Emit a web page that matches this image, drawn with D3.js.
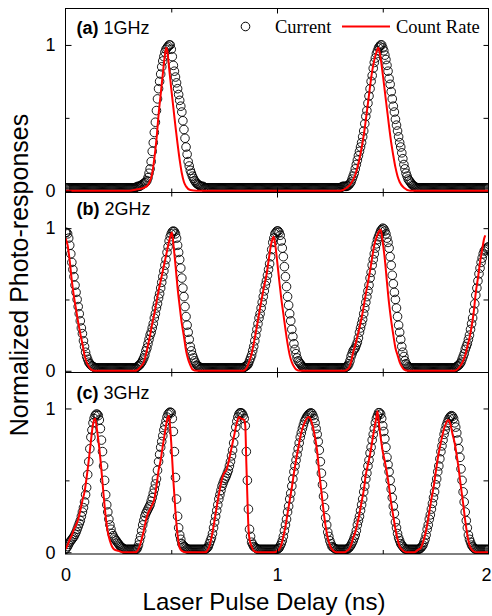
<!DOCTYPE html>
<html>
<head>
<meta charset="utf-8">
<script src="https://cdn.jsdelivr.net/npm/d3@7"></script>
<style>
  body { margin: 0; background: #fff; }
  svg { display: block; }
</style>
</head>
<body>
<svg id="chart" width="492" height="616"></svg>
<script>
// Delay scan step of the photocurrent measurement (ns)
const scanStep = 0.005;

const panelTags = ["(a)", "(b)", "(c)"];
const repRates = ["1GHz", "2GHz", "3GHz"];
const xTicks = [0, 1, 2];
const yTicks = [0, 1];
const seriesNames = ["Current", "Count Rate"];

// Normalized photocurrent, one sample per scan step from 0 to 2 ns (10 per row = 0.05 ns)
const currentA = [
  0.02, 0.02, 0.02, 0.02, 0.02, 0.02, 0.02, 0.02, 0.02, 0.02,
  0.02, 0.02, 0.02, 0.02, 0.02, 0.02, 0.02, 0.02, 0.02, 0.02,
  0.02, 0.02, 0.02, 0.02, 0.02, 0.02, 0.02, 0.02, 0.02, 0.02,
  0.02, 0.02, 0.02, 0.02, 0.02, 0.02, 0.02, 0.02, 0.02, 0.02,
  0.02, 0.02, 0.02, 0.02, 0.02, 0.02, 0.02, 0.02, 0.02, 0.02,
  0.02, 0.02, 0.02, 0.02, 0.02, 0.02, 0.02, 0.02, 0.02, 0.02,
  0.02, 0.02, 0.02, 0.02, 0.02, 0.02, 0.02, 0.025, 0.03, 0.03,
  0.03, 0.035, 0.04, 0.045, 0.05, 0.055, 0.06, 0.07, 0.09, 0.12,
  0.15, 0.20, 0.27, 0.33, 0.40, 0.47, 0.55, 0.63, 0.70, 0.75,
  0.80, 0.85, 0.89, 0.92, 0.95, 0.97, 0.98, 0.99, 1.00, 1.00,
  0.97, 0.92, 0.86, 0.82, 0.78, 0.74, 0.70, 0.66, 0.62, 0.58,
  0.54, 0.48, 0.42, 0.36, 0.30, 0.25, 0.20, 0.17, 0.14, 0.12,
  0.10, 0.085, 0.07, 0.06, 0.05, 0.045, 0.04, 0.035, 0.03, 0.03,
  0.03, 0.025, 0.02, 0.02, 0.02, 0.02, 0.02, 0.02, 0.02, 0.02,
  0.02, 0.02, 0.02, 0.02, 0.02, 0.02, 0.02, 0.02, 0.02, 0.02,
  0.02, 0.02, 0.02, 0.02, 0.02, 0.02, 0.02, 0.02, 0.02, 0.02,
  0.02, 0.02, 0.02, 0.02, 0.02, 0.02, 0.02, 0.02, 0.02, 0.02,
  0.02, 0.02, 0.02, 0.02, 0.02, 0.02, 0.02, 0.02, 0.02, 0.02,
  0.02, 0.02, 0.02, 0.02, 0.02, 0.02, 0.02, 0.02, 0.02, 0.02,
  0.02, 0.02, 0.02, 0.02, 0.02, 0.02, 0.02, 0.02, 0.02, 0.02,
  0.02, 0.02, 0.02, 0.02, 0.02, 0.02, 0.02, 0.02, 0.02, 0.02,
  0.02, 0.02, 0.02, 0.02, 0.02, 0.02, 0.02, 0.02, 0.02, 0.02,
  0.02, 0.02, 0.02, 0.02, 0.02, 0.02, 0.02, 0.02, 0.02, 0.02,
  0.02, 0.02, 0.02, 0.02, 0.02, 0.02, 0.02, 0.02, 0.02, 0.02,
  0.02, 0.02, 0.02, 0.02, 0.02, 0.02, 0.02, 0.02, 0.02, 0.02,
  0.02, 0.02, 0.02, 0.02, 0.02, 0.02, 0.02, 0.02, 0.02, 0.02,
  0.02, 0.025, 0.03, 0.03, 0.03, 0.03, 0.03, 0.035, 0.04, 0.05,
  0.06, 0.08, 0.10, 0.12, 0.15, 0.18, 0.21, 0.24, 0.27, 0.30,
  0.33, 0.37, 0.41, 0.46, 0.51, 0.55, 0.60, 0.65, 0.70, 0.75,
  0.79, 0.84, 0.88, 0.91, 0.94, 0.96, 0.98, 0.99, 1.00, 1.00,
  0.98, 0.96, 0.93, 0.90, 0.86, 0.82, 0.77, 0.73, 0.68, 0.63,
  0.58, 0.54, 0.49, 0.45, 0.41, 0.37, 0.33, 0.30, 0.26, 0.22,
  0.18, 0.15, 0.12, 0.10, 0.08, 0.07, 0.06, 0.05, 0.04, 0.035,
  0.03, 0.025, 0.02, 0.02, 0.02, 0.02, 0.02, 0.02, 0.02, 0.02,
  0.02, 0.02, 0.02, 0.02, 0.02, 0.02, 0.02, 0.02, 0.02, 0.02,
  0.02, 0.02, 0.02, 0.02, 0.02, 0.02, 0.02, 0.02, 0.02, 0.02,
  0.02, 0.02, 0.02, 0.02, 0.02, 0.02, 0.02, 0.02, 0.02, 0.02,
  0.02, 0.02, 0.02, 0.02, 0.02, 0.02, 0.02, 0.02, 0.02, 0.02,
  0.02, 0.02, 0.02, 0.02, 0.02, 0.02, 0.02, 0.02, 0.02, 0.02,
  0.02, 0.02, 0.02, 0.02, 0.02, 0.02, 0.02, 0.02, 0.02, 0.02,
  0.02
];

const currentB = [
  0.97, 0.97, 0.96, 0.93, 0.88, 0.82, 0.76, 0.71, 0.66, 0.60,
  0.55, 0.50, 0.45, 0.40, 0.35, 0.30, 0.26, 0.21, 0.17, 0.13,
  0.10, 0.08, 0.06, 0.05, 0.04, 0.035, 0.03, 0.025, 0.02, 0.02,
  0.02, 0.02, 0.02, 0.02, 0.02, 0.02, 0.02, 0.02, 0.02, 0.02,
  0.02, 0.02, 0.02, 0.02, 0.02, 0.02, 0.02, 0.02, 0.02, 0.02,
  0.02, 0.02, 0.02, 0.02, 0.02, 0.02, 0.02, 0.02, 0.02, 0.02,
  0.02, 0.02, 0.02, 0.02, 0.02, 0.02, 0.02, 0.02, 0.03, 0.035,
  0.04, 0.05, 0.06, 0.075, 0.09, 0.11, 0.14, 0.16, 0.19, 0.22,
  0.25, 0.27, 0.30, 0.33, 0.37, 0.40, 0.44, 0.47, 0.51, 0.54,
  0.58, 0.62, 0.66, 0.70, 0.74, 0.78, 0.83, 0.87, 0.91, 0.94,
  0.96, 0.975, 0.98, 0.975, 0.96, 0.93, 0.88, 0.83, 0.78, 0.72,
  0.65, 0.58, 0.52, 0.45, 0.38, 0.32, 0.27, 0.22, 0.17, 0.14,
  0.11, 0.09, 0.07, 0.055, 0.04, 0.035, 0.03, 0.025, 0.02, 0.02,
  0.02, 0.02, 0.02, 0.02, 0.02, 0.02, 0.02, 0.02, 0.02, 0.02,
  0.02, 0.02, 0.02, 0.02, 0.02, 0.02, 0.02, 0.02, 0.02, 0.02,
  0.02, 0.02, 0.02, 0.02, 0.02, 0.02, 0.02, 0.02, 0.02, 0.02,
  0.02, 0.02, 0.02, 0.02, 0.02, 0.02, 0.02, 0.02, 0.02, 0.025,
  0.03, 0.035, 0.04, 0.05, 0.07, 0.09, 0.11, 0.14, 0.17, 0.21,
  0.25, 0.29, 0.33, 0.37, 0.40, 0.44, 0.48, 0.52, 0.56, 0.60,
  0.63, 0.67, 0.71, 0.75, 0.80, 0.85, 0.90, 0.93, 0.96, 0.97,
  0.98, 0.98, 0.97, 0.95, 0.91, 0.86, 0.80, 0.73, 0.66, 0.59,
  0.52, 0.46, 0.40, 0.35, 0.29, 0.24, 0.19, 0.15, 0.12, 0.09,
  0.07, 0.06, 0.05, 0.04, 0.03, 0.025, 0.02, 0.02, 0.02, 0.02,
  0.02, 0.02, 0.02, 0.02, 0.02, 0.02, 0.02, 0.02, 0.02, 0.02,
  0.02, 0.02, 0.02, 0.02, 0.02, 0.02, 0.02, 0.02, 0.02, 0.02,
  0.02, 0.02, 0.02, 0.02, 0.02, 0.02, 0.02, 0.02, 0.02, 0.02,
  0.02, 0.02, 0.02, 0.02, 0.02, 0.025, 0.03, 0.035, 0.05, 0.07,
  0.10, 0.12, 0.14, 0.15, 0.16, 0.18, 0.20, 0.23, 0.27, 0.30,
  0.33, 0.36, 0.40, 0.44, 0.48, 0.52, 0.56, 0.60, 0.65, 0.69,
  0.74, 0.78, 0.82, 0.86, 0.89, 0.92, 0.94, 0.96, 0.98, 0.99,
  1.00, 0.995, 0.98, 0.96, 0.93, 0.90, 0.86, 0.80, 0.74, 0.67,
  0.61, 0.55, 0.50, 0.44, 0.38, 0.32, 0.27, 0.22, 0.17, 0.13,
  0.10, 0.07, 0.05, 0.04, 0.03, 0.025, 0.02, 0.02, 0.02, 0.02,
  0.02, 0.02, 0.02, 0.02, 0.02, 0.02, 0.02, 0.02, 0.02, 0.02,
  0.02, 0.02, 0.02, 0.02, 0.02, 0.02, 0.02, 0.02, 0.02, 0.02,
  0.02, 0.02, 0.02, 0.02, 0.02, 0.02, 0.02, 0.02, 0.02, 0.02,
  0.02, 0.02, 0.02, 0.02, 0.02, 0.02, 0.02, 0.02, 0.02, 0.025,
  0.03, 0.035, 0.04, 0.05, 0.06, 0.08, 0.10, 0.12, 0.15, 0.17,
  0.19, 0.22, 0.25, 0.29, 0.33, 0.37, 0.42, 0.47, 0.53, 0.58,
  0.63, 0.68, 0.72, 0.76, 0.79, 0.82, 0.84, 0.85, 0.86, 0.86,
  0.87
];

const currentC = [
  0.02, 0.03, 0.04, 0.055, 0.07, 0.08, 0.09, 0.10, 0.11, 0.125,
  0.14, 0.16, 0.18, 0.20, 0.22, 0.25, 0.28, 0.31, 0.35, 0.40,
  0.45, 0.54, 0.63, 0.72, 0.80, 0.85, 0.90, 0.93, 0.95, 0.96,
  0.96, 0.95, 0.92, 0.86, 0.78, 0.70, 0.60, 0.50, 0.40, 0.33,
  0.28, 0.23, 0.19, 0.16, 0.13, 0.115, 0.10, 0.09, 0.08, 0.07,
  0.06, 0.05, 0.04, 0.035, 0.03, 0.025, 0.02, 0.02, 0.02, 0.02,
  0.02, 0.02, 0.02, 0.02, 0.02, 0.02, 0.02, 0.02, 0.03, 0.05,
  0.08, 0.11, 0.15, 0.19, 0.22, 0.25, 0.27, 0.285, 0.30, 0.315,
  0.33, 0.355, 0.38, 0.41, 0.44, 0.475, 0.51, 0.57, 0.63, 0.68,
  0.73, 0.77, 0.81, 0.85, 0.88, 0.91, 0.94, 0.96, 0.97, 0.975,
  0.97, 0.93, 0.84, 0.70, 0.52, 0.37, 0.25, 0.17, 0.12, 0.09,
  0.06, 0.05, 0.04, 0.035, 0.03, 0.025, 0.02, 0.02, 0.02, 0.02,
  0.02, 0.02, 0.02, 0.02, 0.02, 0.02, 0.02, 0.02, 0.02, 0.02,
  0.02, 0.02, 0.02, 0.025, 0.03, 0.04, 0.06, 0.08, 0.10, 0.13,
  0.17, 0.21, 0.25, 0.29, 0.33, 0.37, 0.40, 0.43, 0.46, 0.48,
  0.50, 0.515, 0.53, 0.55, 0.57, 0.60, 0.63, 0.67, 0.71, 0.76,
  0.82, 0.87, 0.91, 0.94, 0.96, 0.97, 0.97, 0.965, 0.95, 0.93,
  0.88, 0.70, 0.50, 0.30, 0.16, 0.11, 0.07, 0.055, 0.04, 0.035,
  0.03, 0.025, 0.02, 0.02, 0.02, 0.02, 0.02, 0.02, 0.02, 0.02,
  0.02, 0.02, 0.02, 0.02, 0.02, 0.02, 0.02, 0.02, 0.02, 0.02,
  0.02, 0.025, 0.03, 0.045, 0.06, 0.08, 0.11, 0.15, 0.19, 0.23,
  0.28, 0.32, 0.37, 0.41, 0.46, 0.51, 0.56, 0.60, 0.64, 0.68,
  0.72, 0.76, 0.80, 0.83, 0.86, 0.885, 0.91, 0.925, 0.94, 0.95,
  0.96, 0.965, 0.97, 0.965, 0.95, 0.93, 0.90, 0.86, 0.82, 0.77,
  0.71, 0.63, 0.55, 0.47, 0.39, 0.31, 0.24, 0.19, 0.14, 0.11,
  0.08, 0.06, 0.04, 0.035, 0.03, 0.025, 0.02, 0.02, 0.02, 0.02,
  0.02, 0.02, 0.02, 0.02, 0.02, 0.02, 0.02, 0.025, 0.03, 0.04,
  0.05, 0.065, 0.08, 0.10, 0.12, 0.15, 0.19, 0.22, 0.25, 0.29,
  0.33, 0.37, 0.42, 0.46, 0.51, 0.55, 0.60, 0.64, 0.69, 0.73,
  0.78, 0.82, 0.86, 0.90, 0.93, 0.95, 0.97, 0.97, 0.96, 0.93,
  0.88, 0.84, 0.79, 0.73, 0.66, 0.61, 0.56, 0.50, 0.44, 0.38,
  0.32, 0.27, 0.21, 0.17, 0.13, 0.10, 0.08, 0.06, 0.05, 0.04,
  0.03, 0.025, 0.02, 0.02, 0.02, 0.02, 0.02, 0.02, 0.02, 0.02,
  0.02, 0.02, 0.02, 0.02, 0.02, 0.025, 0.03, 0.04, 0.05, 0.07,
  0.09, 0.12, 0.16, 0.19, 0.23, 0.26, 0.30, 0.34, 0.38, 0.42,
  0.47, 0.51, 0.56, 0.60, 0.65, 0.70, 0.74, 0.78, 0.82, 0.85,
  0.88, 0.90, 0.92, 0.935, 0.945, 0.95, 0.945, 0.93, 0.90, 0.87,
  0.83, 0.78, 0.72, 0.66, 0.58, 0.50, 0.42, 0.35, 0.28, 0.22,
  0.17, 0.12, 0.09, 0.07, 0.05, 0.04, 0.03, 0.025, 0.02, 0.02,
  0.02, 0.02, 0.02, 0.02, 0.02, 0.02, 0.02, 0.02, 0.02, 0.02,
  0.02
];

// Normalized detector count rate, [delay (ns), value]
const countRateA = [
  [0, 0], [0.30, 0], [0.34, 0.01], [0.37, 0.02], [0.39, 0.04], [0.40, 0.07],
  [0.41, 0.12], [0.42, 0.22], [0.43, 0.35], [0.44, 0.52], [0.45, 0.66],
  [0.46, 0.80], [0.47, 0.93], [0.476, 0.98], [0.48, 0.97], [0.49, 0.84],
  [0.50, 0.70], [0.51, 0.57], [0.52, 0.44], [0.53, 0.32], [0.54, 0.21],
  [0.55, 0.12], [0.56, 0.06], [0.57, 0.03], [0.59, 0.005], [0.62, 0],
  [1.30, 0], [1.33, 0.02], [1.35, 0.05], [1.37, 0.11], [1.39, 0.22],
  [1.41, 0.38], [1.43, 0.60], [1.45, 0.82], [1.47, 0.95], [1.479, 0.98],
  [1.49, 0.91], [1.50, 0.80], [1.51, 0.68], [1.52, 0.56], [1.53, 0.44],
  [1.54, 0.33], [1.55, 0.24], [1.56, 0.16], [1.57, 0.10], [1.58, 0.06],
  [1.60, 0.02], [1.63, 0], [2.00, 0]
];

const countRateB = [
  [0, 0.93], [0.01, 0.88], [0.02, 0.77], [0.03, 0.63], [0.04, 0.52],
  [0.05, 0.43], [0.06, 0.34], [0.07, 0.26], [0.08, 0.19], [0.09, 0.11],
  [0.10, 0.06], [0.11, 0.03], [0.12, 0.01], [0.14, 0], [0.33, 0],
  [0.35, 0.02], [0.37, 0.06], [0.38, 0.11], [0.39, 0.18], [0.40, 0.25],
  [0.41, 0.33], [0.42, 0.40], [0.44, 0.56], [0.46, 0.70], [0.48, 0.84],
  [0.49, 0.91], [0.50, 0.96], [0.503, 0.97], [0.51, 0.89], [0.52, 0.74],
  [0.53, 0.58], [0.54, 0.45], [0.55, 0.33], [0.56, 0.24], [0.57, 0.14],
  [0.58, 0.08], [0.59, 0.04], [0.60, 0.01], [0.62, 0], [0.84, 0],
  [0.86, 0.03], [0.87, 0.07], [0.88, 0.12], [0.89, 0.19], [0.90, 0.27],
  [0.92, 0.44], [0.94, 0.60], [0.95, 0.67], [0.96, 0.77], [0.97, 0.87],
  [0.98, 0.93], [0.984, 0.94], [0.99, 0.90], [1.00, 0.78], [1.01, 0.64],
  [1.02, 0.51], [1.03, 0.40], [1.04, 0.29], [1.05, 0.19], [1.06, 0.11],
  [1.07, 0.06], [1.08, 0.03], [1.09, 0.01], [1.11, 0], [1.32, 0],
  [1.34, 0.02], [1.35, 0.06], [1.36, 0.13], [1.37, 0.18], [1.38, 0.24],
  [1.40, 0.37], [1.42, 0.54], [1.44, 0.70], [1.46, 0.88], [1.48, 0.97],
  [1.49, 0.99], [1.50, 0.90], [1.51, 0.78], [1.52, 0.62], [1.53, 0.47],
  [1.54, 0.35], [1.55, 0.25], [1.56, 0.16], [1.57, 0.11], [1.58, 0.06],
  [1.59, 0.03], [1.60, 0.01], [1.62, 0], [1.84, 0], [1.86, 0.02],
  [1.87, 0.04], [1.88, 0.07], [1.89, 0.11], [1.90, 0.17], [1.91, 0.23],
  [1.92, 0.31], [1.93, 0.41], [1.94, 0.55], [1.95, 0.65], [1.96, 0.76],
  [1.97, 0.85], [1.98, 0.93], [1.985, 0.95]
];

const countRateC = [
  [0, 0.02], [0.01, 0.05], [0.02, 0.09], [0.03, 0.12], [0.04, 0.16],
  [0.05, 0.19], [0.06, 0.23], [0.07, 0.29], [0.08, 0.36], [0.09, 0.42],
  [0.10, 0.52], [0.11, 0.64], [0.12, 0.77], [0.13, 0.89], [0.14, 0.93],
  [0.15, 0.84], [0.16, 0.72], [0.17, 0.57], [0.18, 0.40], [0.19, 0.25],
  [0.20, 0.14], [0.21, 0.08], [0.22, 0.04], [0.23, 0.02], [0.25, 0.01],
  [0.27, 0], [0.33, 0], [0.34, 0.01], [0.35, 0.04], [0.36, 0.09],
  [0.37, 0.15], [0.38, 0.22], [0.39, 0.27], [0.40, 0.30], [0.41, 0.33],
  [0.42, 0.37], [0.43, 0.46], [0.44, 0.57], [0.45, 0.64], [0.46, 0.74],
  [0.47, 0.83], [0.48, 0.92], [0.489, 0.95], [0.50, 0.76], [0.51, 0.50],
  [0.52, 0.28], [0.53, 0.12], [0.54, 0.03], [0.55, 0.01], [0.57, 0],
  [0.66, 0], [0.67, 0.01], [0.68, 0.04], [0.69, 0.10], [0.70, 0.18],
  [0.71, 0.27], [0.72, 0.36], [0.73, 0.44], [0.74, 0.51], [0.75, 0.55],
  [0.76, 0.57], [0.77, 0.62], [0.78, 0.69], [0.79, 0.76], [0.80, 0.83],
  [0.81, 0.90], [0.82, 0.94], [0.83, 0.93], [0.845, 0.92], [0.85, 0.88],
  [0.855, 0.62], [0.86, 0.38], [0.865, 0.17], [0.87, 0.09], [0.88, 0.04],
  [0.89, 0.01], [0.91, 0], [0.99, 0], [1.00, 0.01], [1.01, 0.02],
  [1.02, 0.05], [1.03, 0.11], [1.04, 0.18], [1.05, 0.27], [1.06, 0.36],
  [1.07, 0.45], [1.08, 0.55], [1.09, 0.64], [1.10, 0.72], [1.11, 0.80],
  [1.12, 0.86], [1.13, 0.90], [1.14, 0.93], [1.15, 0.94], [1.16, 0.92],
  [1.17, 0.87], [1.18, 0.80], [1.19, 0.70], [1.20, 0.55], [1.21, 0.42],
  [1.22, 0.29], [1.23, 0.18], [1.24, 0.10], [1.25, 0.05], [1.26, 0.02],
  [1.28, 0], [1.32, 0], [1.33, 0.01], [1.34, 0.02], [1.35, 0.05],
  [1.36, 0.10], [1.37, 0.14], [1.38, 0.20], [1.39, 0.27], [1.40, 0.35],
  [1.41, 0.43], [1.42, 0.54], [1.43, 0.61], [1.44, 0.68], [1.45, 0.77],
  [1.46, 0.86], [1.47, 0.94], [1.475, 0.98], [1.48, 0.92], [1.49, 0.80],
  [1.50, 0.70], [1.51, 0.63], [1.52, 0.55], [1.53, 0.45], [1.54, 0.34],
  [1.55, 0.25], [1.56, 0.16], [1.57, 0.09], [1.58, 0.04], [1.59, 0.02],
  [1.61, 0], [1.65, 0], [1.66, 0.01], [1.67, 0.02], [1.68, 0.03],
  [1.69, 0.07], [1.70, 0.12], [1.71, 0.19], [1.72, 0.28], [1.73, 0.37],
  [1.74, 0.45], [1.75, 0.55], [1.76, 0.65], [1.77, 0.73], [1.78, 0.80],
  [1.79, 0.86], [1.80, 0.90], [1.81, 0.92], [1.82, 0.89], [1.83, 0.82],
  [1.84, 0.76], [1.85, 0.67], [1.86, 0.57], [1.87, 0.45], [1.88, 0.34],
  [1.89, 0.22], [1.90, 0.12], [1.91, 0.05], [1.92, 0.02], [1.94, 0],
  [2.00, 0]
];

// ---------------------------------------------------------------------------
const sansFont = "'Liberation Sans', Arial, sans-serif";
const serifFont = "'Liberation Serif', 'Times New Roman', serif";
const red = "#ff0000";

const svg = d3.select("#chart");
const x = d3.scaleLinear().domain([0, 2]).range([65.5, 488.5]);

const panels = [
  { top: 8.5,   bottom: 192.5, tag: panelTags[0], rate: repRates[0], current: currentA, count: countRateA, labelY: 34 },
  { top: 192.5, bottom: 372.5, tag: panelTags[1], rate: repRates[1], current: currentB, count: countRateB, labelY: 215 },
  { top: 372.5, bottom: 554,   tag: panelTags[2], rate: repRates[2], current: currentC, count: countRateC, labelY: 399 }
];

function styleAxis(g) {
  g.select(".domain").remove();
  g.selectAll(".tick line").attr("stroke", "#000").attr("stroke-width", 1);
  g.selectAll(".tick text")
    .attr("fill", "#000")
    .style("font-family", sansFont)
    .style("font-size", "18px");
}

panels.forEach((p, i) => {
  const y = d3.scaleLinear().domain([-0.012, 1.25]).range([p.bottom, p.top]);
  const g = svg.append("g");

  const clipId = "panel-clip-" + i;
  svg.append("defs").append("clipPath").attr("id", clipId)
    .append("rect")
    .attr("x", x(0)).attr("y", p.top)
    .attr("width", x(2) - x(0)).attr("height", p.bottom - p.top);

  const plot = g.append("g").attr("clip-path", `url(#${clipId})`);

  // photocurrent samples as open circles
  plot.append("g")
    .selectAll("circle")
    .data(p.current)
    .join("circle")
    .attr("cx", (d, j) => x(j * scanStep))
    .attr("cy", d => y(d))
    .attr("r", 4.3)
    .attr("fill", "none")
    .attr("stroke", "#000")
    .attr("stroke-width", 0.9);

  // count rate as a red line on top
  const line = d3.line()
    .x(d => x(d[0]))
    .y(d => y(d[1]))
    .curve(d3.curveMonotoneX);

  plot.append("path")
    .datum(p.count)
    .attr("d", line)
    .attr("fill", "none")
    .attr("stroke", red)
    .attr("stroke-width", 2)
    .attr("stroke-linejoin", "round");

  // y axes: inward ticks on both sides, labels on the left
  g.append("g").attr("transform", `translate(${x(0)},0)`)
    .call(d3.axisLeft(y).tickValues(yTicks).tickSize(-6).tickPadding(10).tickFormat(d3.format("d")))
    .call(styleAxis);
  g.append("g").attr("transform", `translate(${x(0)},0)`)
    .call(d3.axisLeft(y).tickValues([0.5]).tickSize(-4).tickFormat(""))
    .call(styleAxis);
  g.append("g").attr("transform", `translate(${x(2)},0)`)
    .call(d3.axisRight(y).tickValues([0.5, 1]).tickSize(-5).tickFormat(""))
    .call(styleAxis);

  // x axes: inward ticks top and bottom
  [p.top, p.bottom].forEach((yy, k) => {
    const mk = k === 0 ? d3.axisTop : d3.axisBottom;
    g.append("g").attr("transform", `translate(0,${yy})`)
      .call(mk(x).tickValues([1]).tickSize(-5).tickFormat(""))
      .call(styleAxis);
    g.append("g").attr("transform", `translate(0,${yy})`)
      .call(mk(x).tickValues([0.5, 1.5]).tickSize(-4).tickFormat(""))
      .call(styleAxis);
  });

  if (i === panels.length - 1) {
    g.append("g").attr("transform", `translate(0,${p.bottom})`)
      .call(d3.axisBottom(x).tickValues(xTicks).tickSize(0).tickPadding(14).tickFormat(d3.format("d")))
      .call(styleAxis)
      // keep the last label inside the canvas edge
      .call(ax => ax.selectAll(".tick text").filter(d => d === 2).attr("dx", "-2.5"));
  }

  // frame
  g.append("rect")
    .attr("x", x(0)).attr("y", p.top)
    .attr("width", x(2) - x(0)).attr("height", p.bottom - p.top)
    .attr("fill", "none")
    .attr("stroke", "#000")
    .attr("stroke-width", 1);

  // panel tag
  const lbl = g.append("text")
    .attr("x", 76.5).attr("y", p.labelY)
    .style("font-family", sansFont)
    .style("font-size", "18px")
    .attr("fill", "#000");
  lbl.append("tspan").style("font-weight", "bold").text(p.tag);
  lbl.append("tspan").text("\u00a0" + p.rate);
});

// legend
const legend = svg.append("g")
  .style("font-family", serifFont)
  .style("font-size", "18.5px");
legend.append("circle")
  .attr("cx", 245.5).attr("cy", 26.5).attr("r", 4.3)
  .attr("fill", "none").attr("stroke", "#000").attr("stroke-width", 1);
legend.append("text").attr("x", 275).attr("y", 32.5).text(seriesNames[0]);
legend.append("line")
  .attr("x1", 342).attr("x2", 390).attr("y1", 26.5).attr("y2", 26.5)
  .attr("stroke", red).attr("stroke-width", 2);
legend.append("text").attr("x", 396).attr("y", 32.5).text(seriesNames[1]);

// axis titles
svg.append("text")
  .attr("x", 264).attr("y", 610)
  .attr("text-anchor", "middle")
  .style("font-family", sansFont)
  .style("font-size", "24px")
  .text("Laser Pulse Delay (ns)");

svg.append("text")
  .attr("transform", "translate(28,275) rotate(-90)")
  .attr("text-anchor", "middle")
  .style("font-family", sansFont)
  .style("font-size", "25px")
  .text("Normalized Photo-responses");
</script>
</body>
</html>
